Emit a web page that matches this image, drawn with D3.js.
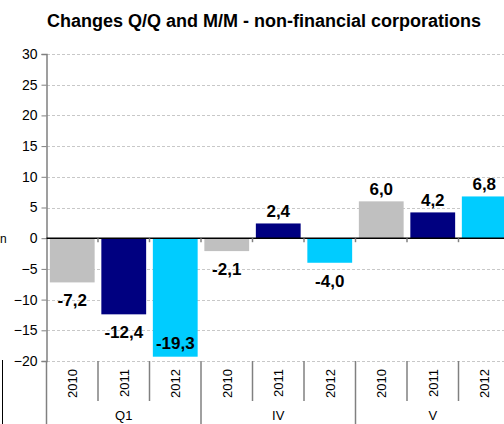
<!DOCTYPE html>
<html><head><meta charset="utf-8">
<script src="https://cdn.jsdelivr.net/npm/d3@7"></script>
<style>body{margin:0;background:#fff}svg{display:block}text{font-family:"Liberation Sans",Arial,sans-serif}</style>
</head><body>
<script>
const title = "Changes Q/Q and M/M - non-financial corporations";
const groups = ["Q1", "IV", "V"];
const years = ["2010", "2011", "2012"];
const values2010 = [-7.2, -2.1, 6.0];
const values2011 = [-12.4, 2.4, 4.2];
const values2012 = [-19.3, -4.0, 6.8];
const yTicks = [-20, -15, -10, -5, 0, 5, 10, 15, 20, 25, 30];
const colors = ["#C0C0C0", "#000080", "#00CCFF"];

const series = [values2010, values2011, values2012];
const data = [];
groups.forEach((g, gi) => years.forEach((yr, si) => data.push({g, gi, yr, si, v: series[si][gi], key: g + "-" + yr})));

const W = 504, H = 424;
const svg = d3.select("body").append("svg").attr("width", W).attr("height", H);

const x = d3.scaleBand().domain(data.map(d => d.key)).range([46.5, 510]).paddingInner(0.13).paddingOuter(0.065);
const xg = d3.scaleBand().domain(groups).range([46.5, 510]);
const y = d3.scaleLinear().domain([-20, 30]).range([361, 54]);

// title
svg.append("text").attr("x", 264).attr("y", 27).attr("text-anchor", "middle")
  .attr("font-size", 18).attr("font-weight", "bold").text(title);

// gridlines
svg.append("g").selectAll("line").data(yTicks.filter(t => t !== 0)).join("line")
  .attr("x1", 47).attr("x2", W).attr("y1", d => Math.round(y(d)) + 0.5).attr("y2", d => Math.round(y(d)) + 0.5)
  .attr("stroke", "#c8c8c8").attr("stroke-dasharray", "3,2");

// y axis
const yAxis = svg.append("g").attr("transform", "translate(46.5,0)")
  .call(d3.axisLeft(y).tickValues(yTicks).tickSize(5).tickPadding(4).tickFormat(d3.format("d")));
yAxis.select(".domain").attr("stroke", "#808080").attr("stroke-width", 1.5);
yAxis.selectAll(".tick line").attr("stroke", "#808080");
yAxis.selectAll(".tick text").attr("font-size", 14).attr("fill", "#000").attr("font-family", "Liberation Sans, Arial, sans-serif");

// bars
svg.append("g").selectAll("rect").data(data).join("rect")
  .attr("x", d => x(d.key)).attr("width", x.bandwidth())
  .attr("y", d => y(Math.max(0, d.v))).attr("height", d => Math.abs(y(d.v) - y(0)))
  .attr("fill", d => colors[d.si]);

// zero line
svg.append("line").attr("x1", 46.5).attr("x2", W).attr("y1", y(0)).attr("y2", y(0))
  .attr("stroke", "#000").attr("stroke-width", 1.5);
// small ticks on zero line at category boundaries
const step = x.step();
svg.append("g").selectAll("line").data(data.slice(1)).join("line")
  .attr("x1", d => x(d.key) - step * 0.065).attr("x2", d => x(d.key) - step * 0.065)
  .attr("y1", y(0)).attr("y2", y(0) + 4).attr("stroke", "#808080").attr("stroke-width", 1.5);

// value labels
svg.append("g").selectAll("text").data(data).join("text")
  .attr("x", d => x(d.key) + x.bandwidth() / 2)
  .attr("y", d => d.v >= 0 ? y(d.v) - 12 : Math.min(y(d.v) + 18, y(-17)))
  .attr("dy", "0.35em").attr("text-anchor", "middle")
  .attr("font-size", 17).attr("font-weight", "bold")
  .text(d => d3.format(".1f")(d.v).replace(".", ",").replace("−", "-"));

// category axis at bottom
const bottom = y(-20);
const catB = svg.append("g");
catB.selectAll("line.cat").data(data).join("line").attr("class", "cat")
  .attr("x1", d => x(d.key) - step * 0.065).attr("x2", d => x(d.key) - step * 0.065)
  .attr("y1", bottom).attr("y2", d => d.si === 0 ? H : bottom + 40)
  .attr("stroke", "#808080").attr("stroke-width", 1.5);
catB.append("line").attr("x1", 510).attr("x2", 510).attr("y1", bottom).attr("y2", H).attr("stroke", "#808080");
catB.selectAll("text.yr").data(data).join("text").attr("class", "yr")
  .attr("transform", d => `translate(${x(d.key) + x.bandwidth() / 2 + 5},${bottom + 8}) rotate(-90)`)
  .attr("text-anchor", "end").attr("font-size", 13).text(d => d.yr);
catB.selectAll("text.grp").data(groups).join("text").attr("class", "grp")
  .attr("x", d => xg(d) + xg.bandwidth() / 2).attr("y", 420)
  .attr("text-anchor", "middle").attr("font-size", 13).text(d => d);

// fragments at left edge
svg.append("text").attr("x", 0).attr("y", 243).attr("font-size", 12).text("n");
svg.append("line").attr("x1", 2.5).attr("x2", 2.5).attr("y1", 360).attr("y2", H).attr("stroke", "#000");
</script>
</body></html>
